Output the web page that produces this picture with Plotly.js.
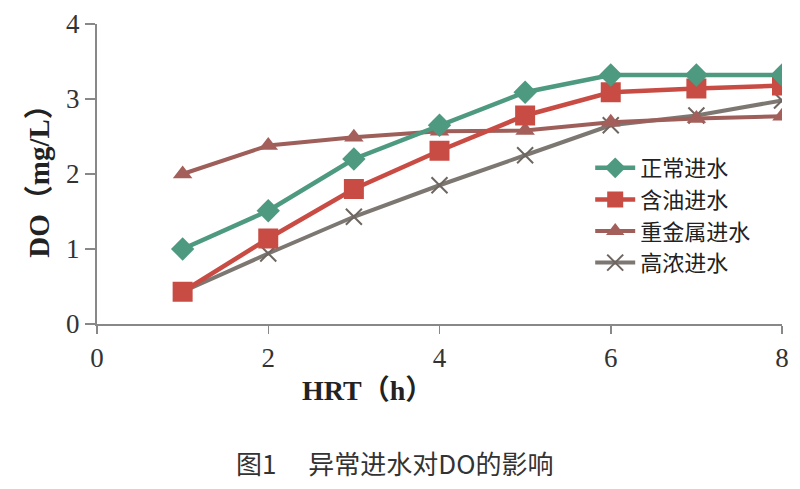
<!DOCTYPE html>
<html>
<head>
<meta charset="utf-8">
<script src="https://cdn.plot.ly/plotly-3.0.1.min.js"></script>
<style>html,body{margin:0;padding:0;background:#fff;}#chart{width:800px;height:489px;}</style>
</head>
<body>
<div id="chart"></div>
<script>
const hrt = [1, 2, 3, 4, 5, 6, 7, 8];
const normalDO = [1.0, 1.51, 2.2, 2.65, 3.09, 3.32, 3.32, 3.32];
const oilDO = [0.43, 1.14, 1.8, 2.31, 2.78, 3.09, 3.14, 3.18];
const heavyMetalDO = [2.0, 2.38, 2.49, 2.57, 2.58, 2.69, 2.74, 2.77];
const highConcDO = [0.43, 0.94, 1.43, 1.85, 2.25, 2.65, 2.78, 2.98];
const seriesNames = ['正常进水', '含油进水', '重金属进水', '高浓进水'];
const xTicks = [0, 2, 4, 6, 8];
const yTicks = [0, 1, 2, 3, 4];

const serif = 'Liberation Serif, DejaVu Serif, Noto Sans CJK SC, serif';
const cjk = 'Noto Sans CJK SC, Liberation Serif, serif';

const traces = [
  {x: hrt, y: highConcDO, name: seriesNames[3], mode: 'lines+markers', legendrank: 4,
   line: {color: '#7d7772', width: 4},
   marker: {symbol: 'x-thin-open', size: 16, color: '#6e6660', line: {width: 2, color: '#6e6660'}}},
  {x: hrt, y: heavyMetalDO, name: seriesNames[2], mode: 'lines+markers', legendrank: 3,
   line: {color: '#9e5f5a', width: 4},
   marker: {symbol: 'triangle-up', size: 17, color: '#a45f5a'}},
  {x: hrt, y: oilDO, name: seriesNames[1], mode: 'lines+markers', legendrank: 2,
   line: {color: '#c94c44', width: 4.5},
   marker: {symbol: 'square', size: 20, color: '#c94c44'}},
  {x: hrt, y: normalDO, name: seriesNames[0], mode: 'lines+markers', legendrank: 1,
   line: {color: '#4e9a80', width: 4.5},
   marker: {symbol: 'diamond', size: 18, color: '#4e9a80'}}
];

const layout = {
  width: 800, height: 489,
  margin: {l: 97, r: 18, t: 24, b: 165},
  paper_bgcolor: '#ffffff', plot_bgcolor: '#ffffff',
  font: {family: serif, color: '#222'},
  xaxis: {
    range: [0, 8], tickvals: xTicks, ticktext: xTicks.map(String),
    showgrid: false, zeroline: false, showline: true, linecolor: '#888', linewidth: 2,
    ticks: 'outside', ticklen: 8, tickcolor: '#888', tickwidth: 1.5,
    ticklabelstandoff: 1,
    tickfont: {family: serif, size: 27, color: '#333'}
  },
  yaxis: {
    range: [0, 4], tickvals: yTicks, ticktext: yTicks.map(String),
    showgrid: false, zeroline: false, showline: true, linecolor: '#888', linewidth: 2,
    ticks: 'outside', ticklen: 10, tickcolor: '#888', tickwidth: 1.5,
    tickfont: {family: serif, size: 27, color: '#333'},
    title: {text: '<b>DO（mg/L）</b>', font: {family: serif, size: 29, color: '#222'}, standoff: 8}
  },
  legend: {
    x: 0.72, y: 0.59, xanchor: 'left', yanchor: 'top',
    bgcolor: 'rgba(255,255,255,0)',
    font: {family: cjk, size: 22, color: '#222'},
    tracegroupgap: 0, itemwidth: 40
  },
  showlegend: true,
  annotations: [
    {
      text: '<b>HRT（h）</b>', xref: 'paper', yref: 'paper',
      x: 0.395, y: -0.22, xanchor: 'center', yanchor: 'middle', showarrow: false,
      font: {family: serif, size: 28, color: '#222'}
    },
    {
      text: '图1　 异常进水对DO的影响', xref: 'paper', yref: 'paper',
      x: 0.435, y: -0.46, xanchor: 'center', yanchor: 'middle', showarrow: false,
      font: {family: cjk, size: 26, color: '#333'}
    }
  ]
};

Plotly.newPlot('chart', traces, layout, {displayModeBar: false, staticPlot: true});
</script>
</body>
</html>
